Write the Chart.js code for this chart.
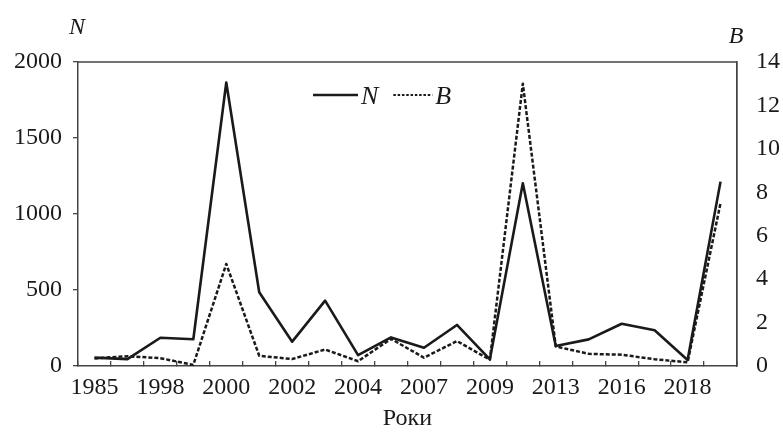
<!DOCTYPE html>
<html>
<head>
<meta charset="utf-8">
<script src="https://cdn.jsdelivr.net/npm/chart.js@4"></script>
<style>
    html, body { margin: 0; padding: 0; background: #fff; }
    #wrap { width: 783px; height: 433px; position: relative; }
</style>
</head>
<body>
<div id="wrap"><canvas id="chart"></canvas></div>
<script>
        // Years (only every other one is labelled on the axis)
        const years = [
            '1985', '1990', '1998', '1999', '2000', '2001', '2002', '2003', '2004', '2006',
            '2007', '2008', '2009', '2011', '2013', '2015', '2016', '2017', '2018', '2019'
        ];

        const valuesN = [55, 45, 186, 176, 1865, 485, 160, 430, 72, 188,
                         120, 270, 44, 1202, 132, 175, 278, 235, 40, 1213];
        const valuesB = [0.35, 0.45, 0.36, 0.05, 4.7, 0.47, 0.32, 0.76, 0.22, 1.25,
                         0.38, 1.15, 0.29, 13.0, 0.9, 0.56, 0.52, 0.31, 0.17, 7.5];

        const leftTicks = [0, 500, 1000, 1500, 2000];
        const rightTicks = [0, 2, 4, 6, 8, 10, 12, 14];

        const serif = "'Liberation Serif', 'DejaVu Serif', serif";
        const ink = '#1a1a1a';

        // frame round the plot, axis letters and the legend inside the plot
        const decorations = {
            id: 'decorations',
            afterDraw(chart) {
                const ctx = chart.ctx;
                const a = chart.chartArea;
                ctx.save();
                ctx.strokeStyle = '#444';
                ctx.lineWidth = 1.3;
                ctx.beginPath();
                ctx.moveTo(a.left, a.top);
                ctx.lineTo(a.right, a.top);
                ctx.lineTo(a.right, a.bottom);
                ctx.stroke();

                ctx.fillStyle = ink;
                ctx.font = 'italic 24px ' + serif;
                ctx.textBaseline = 'alphabetic';
                ctx.textAlign = 'center';
                ctx.fillText('N', a.left - 1, 34);
                ctx.fillText('B', a.right - 1, 43);

                // legend
                const ds = chart.data.datasets;
                const ly = 95;
                let x = 313;
                ctx.font = 'italic 26px ' + serif;
                ctx.textAlign = 'left';
                ds.forEach((d, i) => {
                    const len = i === 0 ? 45 : 39;
                    ctx.strokeStyle = d.borderColor;
                    ctx.lineWidth = i === 0 ? d.borderWidth : 2.2;
                    ctx.setLineDash(i === 0 ? [] : [2.5, 1.8]);
                    ctx.beginPath();
                    ctx.moveTo(x, ly);
                    ctx.lineTo(x + len, ly);
                    ctx.stroke();
                    ctx.setLineDash([]);
                    ctx.fillText(d.label, x + len + 3, ly + 9);
                    x += len + 3 + ctx.measureText(d.label).width + 15;
                });
                ctx.restore();
            }
        };

        const ctx = document.getElementById('chart').getContext('2d');
        new Chart(ctx, {
            type: 'line',
            data: {
                labels: years,
                datasets: [
                    {
                        label: 'N',
                        data: valuesN,
                        yAxisID: 'y',
                        borderColor: ink,
                        borderWidth: 2.6,
                        borderJoinStyle: 'round',
                        pointRadius: 0,
                        tension: 0
                    },
                    {
                        label: 'B',
                        data: valuesB,
                        yAxisID: 'y1',
                        borderColor: ink,
                        borderWidth: 2.5,
                        borderDash: [4, 2],
                        borderJoinStyle: 'round',
                        pointRadius: 0,
                        tension: 0
                    }
                ]
            },
            options: {
                responsive: true,
                maintainAspectRatio: false,
                animation: false,
                layout: { padding: { top: 62, left: 0, right: 0, bottom: 0 } },
                plugins: {
                    legend: { display: false },
                    tooltip: { enabled: false }
                },
                scales: {
                    x: {
                        offset: true,
                        grid: {
                            offset: true,
                            drawOnChartArea: false,
                            drawTicks: true,
                            tickLength: -5,
                            color: '#444',
                            lineWidth: 1.3
                        },
                        border: { color: '#444', width: 1.5 },
                        ticks: {
                            autoSkip: false,
                            maxRotation: 0,
                            padding: 12,
                            color: ink,
                            font: { family: serif, size: 24 },
                            callback: function(value, index) {
                                return index % 2 === 0 ? years[index] : '';
                            }
                        },
                        title: {
                            display: true,
                            text: 'Роки',
                            color: ink,
                            padding: { top: 3, bottom: 0 },
                            font: { family: serif, size: 24 }
                        },
                        afterFit: function(scale) { scale.height = 67; }
                    },
                    y: {
                        position: 'left',
                        min: 0,
                        max: 2000,
                        afterBuildTicks: function(scale) {
                            scale.ticks = leftTicks.map(v => ({ value: v }));
                        },
                        grid: {
                            drawOnChartArea: false,
                            drawTicks: true,
                            tickLength: 5,
                            color: '#444',
                            lineWidth: 1.3
                        },
                        border: { color: '#444', width: 1.5 },
                        ticks: {
                            padding: 11,
                            color: ink,
                            font: { family: serif, size: 24 },
                            callback: function(value) { return String(value); }
                        },
                        afterFit: function(scale) { scale.width = 78; }
                    },
                    y1: {
                        position: 'right',
                        min: 0,
                        max: 14,
                        afterBuildTicks: function(scale) {
                            scale.ticks = rightTicks.map(v => ({ value: v }));
                        },
                        grid: { display: false, drawTicks: false },
                        border: { color: '#444', width: 1.3 },
                        ticks: {
                            padding: 19,
                            color: ink,
                            font: { family: serif, size: 24 },
                            callback: function(value) { return String(value); }
                        },
                        afterFit: function(scale) { scale.width = 46; }
                    }
                }
            },
            plugins: [decorations]
        });
</script>
</body>
</html>
